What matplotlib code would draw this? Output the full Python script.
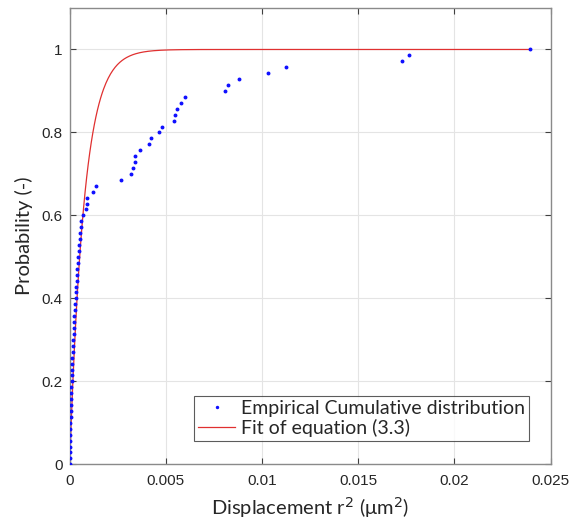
import numpy as np
import matplotlib
matplotlib.use("Agg")
import matplotlib.pyplot as plt

# Empirical CDF points: displacement r^2 (um^2) for cumulative probability k/70
n_total = 70
r2_values = [
    0.0, 0.000005, 0.00001, 0.000015, 0.00002, 0.00003, 0.000035, 0.00004,
    0.00005, 0.00006, 0.00007, 0.000075, 0.00008, 0.00009, 0.0001, 0.00011,
    0.00012, 0.00013, 0.00014, 0.00015, 0.00017, 0.00019, 0.0002, 0.00022,
    0.00024, 0.00024, 0.00028, 0.00029, 0.00031, 0.00033, 0.00035, 0.00036,
    0.00038, 0.00038, 0.00042, 0.00043, 0.00047, 0.00048, 0.00052, 0.00055,
    0.0006, 0.0006, 0.00071, 0.00086, 0.00088, 0.00088, 0.0012, 0.00135,
    0.00267, 0.00321, 0.0033, 0.00337, 0.00339, 0.00368, 0.00411, 0.00425,
    0.00462, 0.00482, 0.00542, 0.00547, 0.00559, 0.0058, 0.006, 0.00805,
    0.00821, 0.00878, 0.01031, 0.01125, 0.01727, 0.01762, 0.02392,
]
probabilities = [k / n_total for k in range(len(r2_values))]

# Fit of equation (3.3): P = 1 - exp(-r^2 / <r^2>)
fit_mean_r2 = 0.00075
fit_x = np.linspace(0, 0.024, 600)
fit_y = 1 - np.exp(-fit_x / fit_mean_r2)

x_ticks = [0, 0.005, 0.01, 0.015, 0.02, 0.025]
x_tick_labels = ["0", "0.005", "0.01", "0.015", "0.02", "0.025"]
y_ticks = [0, 0.2, 0.4, 0.6, 0.8, 1]
y_tick_labels = ["0", "0.2", "0.4", "0.6", "0.8", "1"]

fig = plt.figure(figsize=(5.73, 5.23), dpi=100)
ax = fig.add_axes([0.1216, 0.1122, 0.8394, 0.8725])

ax.plot(r2_values, probabilities, linestyle="none", marker="o", markersize=1.8,
        color="#1010ff", label="Empirical Cumulative distribution", zorder=3)
ax.plot(fit_x, fit_y, color="#e03030", linewidth=0.9,
        label="Fit of equation (3.3)", zorder=2)

ax.set_xlim(0, 0.025)
ax.set_ylim(0, 1.1)
ax.set_xticks(x_ticks)
ax.set_xticklabels(x_tick_labels, family="Liberation Sans", fontsize=11)
ax.set_yticks(y_ticks)
ax.set_yticklabels(y_tick_labels, family="Liberation Sans", fontsize=11)
ax.tick_params(direction="in", length=4, width=0.8, color="#404040",
               top=True, right=True, labelcolor="#262626")
ax.tick_params(axis="x", pad=7)
ax.tick_params(axis="y", pad=5)
ax.grid(True, color="#e4e4e4", linewidth=0.8)
ax.set_axisbelow(True)
for s in ax.spines.values():
    s.set_color("#8a8a8a")
    s.set_linewidth(1.0)

ax.set_xlabel("Displacement r$^2$ (μm$^2$)", family="Lato", fontsize=14.5,
              color="#262626", labelpad=5)
ax.set_ylabel("Probability (-)", family="Lato", fontsize=14.5,
              color="#262626", labelpad=6)

leg = ax.legend(loc="lower right", bbox_to_anchor=(0.955, 0.052),
                prop={"family": "Lato", "size": 14}, frameon=True,
                fancybox=False, edgecolor="#333333", handlelength=1.9,
                handletextpad=0.3, borderpad=0.2, labelspacing=0.1,
                borderaxespad=0.0, markerscale=0.8)
leg.get_frame().set_linewidth(0.8)
for t in leg.get_texts():
    t.set_color("#262626")

fig.savefig("out.png", dpi=100, facecolor="white")
